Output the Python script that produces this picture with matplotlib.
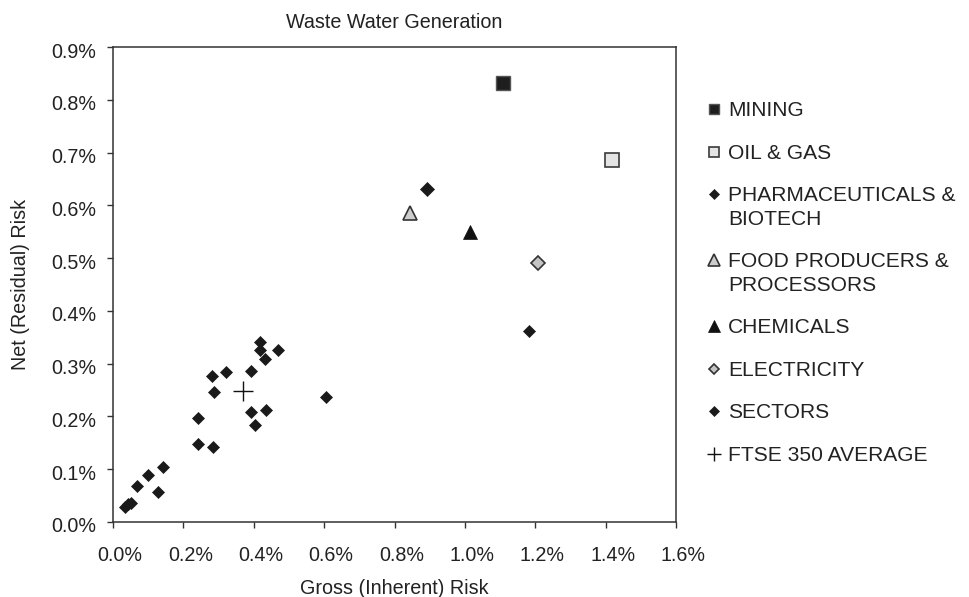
import matplotlib
matplotlib.use("Agg")
import matplotlib.pyplot as plt
from matplotlib.ticker import FuncFormatter
from matplotlib.transforms import ScaledTranslation

plt.rcParams['font.family'] = ['Liberation Sans', 'DejaVu Sans']

# Highlighted sectors (gross %, net %)
mining = ([1.109], [0.832])
oil_gas = ([1.419], [0.685])
pharma = ([0.891], [0.631])
food = ([0.843], [0.586])
chemicals = ([1.014], [0.550])
electricity = ([1.209], [0.491])

# All other sectors
sectors_x = [1.183, 0.419, 0.419, 0.470, 0.431, 0.392, 0.320, 0.281, 0.287,
             0.605, 0.391, 0.434, 0.404, 0.241, 0.242, 0.285, 0.141, 0.099,
             0.069, 0.129, 0.034, 0.044, 0.050]
sectors_y = [0.362, 0.342, 0.325, 0.326, 0.309, 0.287, 0.284, 0.277, 0.246,
             0.236, 0.208, 0.213, 0.184, 0.197, 0.147, 0.143, 0.104, 0.090,
             0.068, 0.057, 0.029, 0.035, 0.036]

ftse_avg = ([0.370], [0.249])

legend_labels = ["MINING", "OIL & GAS", "PHARMACEUTICALS &\nBIOTECH",
                 "FOOD PRODUCERS &\nPROCESSORS", "CHEMICALS", "ELECTRICITY",
                 "SECTORS", "FTSE 350 AVERAGE"]

x_ticks = [0.0, 0.2, 0.4, 0.6, 0.8, 1.0, 1.2, 1.4, 1.6]
y_ticks = [0.0, 0.1, 0.2, 0.3, 0.4, 0.5, 0.6, 0.7, 0.8, 0.9]

text_color = '#222222'
fs = 14.2
leg_fs = 15.1
leg_linespacing = 1.3

fig = plt.figure(figsize=(9.7, 5.97), dpi=100)
ax = fig.add_axes([113/970, 1-522/597, 563/970, 475/597])

ax.plot(*mining, ls='none', marker='s', ms=10, mfc='#1e1e1e', mec='#555555', mew=1, label=legend_labels[0])
ax.plot(*oil_gas, ls='none', marker='s', ms=10, mfc='#e4e4e4', mec='#3a3a3a', mew=1.2, label=legend_labels[1])
ax.plot(*pharma, ls='none', marker='D', ms=7.5, mfc='#1a1a1a', mec='#1a1a1a', mew=0.5, label=legend_labels[2])
ax.plot(*food, ls='none', marker='^', ms=10.5, mfc='#cccccc', mec='#333333', mew=1.2, label=legend_labels[3])
ax.plot(*chemicals, ls='none', marker='^', ms=10.5, mfc='#111111', mec='#111111', mew=0.5, label=legend_labels[4])
ax.plot(*electricity, ls='none', marker='D', ms=7.2, mfc='#c4c4c4', mec='#333333', mew=1.2, label=legend_labels[5])
ax.plot(sectors_x, sectors_y, ls='none', marker='D', ms=5.8, mfc='#1a1a1a', mec='#1a1a1a', mew=0.5, label=legend_labels[6])
ax.plot(*ftse_avg, ls='none', marker='+', ms=14, mec='#111111', mew=1.0, label=legend_labels[7])

ax.set_xlim(0, 1.6)
ax.set_ylim(0, 0.9)
ax.set_xticks(x_ticks)
ax.set_yticks(y_ticks)
ax.xaxis.set_major_formatter(FuncFormatter(lambda v, p: f"{v:.1f}%"))
ax.yaxis.set_major_formatter(FuncFormatter(lambda v, p: f"{v:.1f}%"))

for s in ax.spines.values():
    s.set_color('#333333')
    s.set_linewidth(1.1)

ax.tick_params(axis='x', direction='out', length=4, width=1, color='#333333',
               labelsize=fs, labelcolor=text_color, pad=13)
ax.tick_params(axis='y', direction='out', length=4, width=1, color='#333333',
               labelsize=fs, labelcolor=text_color, pad=8)

# tick labels sit slightly right (x) and slightly low (y) of their ticks
x_shift = ScaledTranslation(7/100, 0, fig.dpi_scale_trans)
y_shift = ScaledTranslation(0, -3/100, fig.dpi_scale_trans)
for lbl in ax.get_xticklabels():
    lbl.set_transform(lbl.get_transform() + x_shift)
for lbl in ax.get_yticklabels():
    lbl.set_transform(lbl.get_transform() + y_shift)

ax.set_title("Waste Water Generation", fontsize=fs, color=text_color, pad=14)
ax.set_xlabel("Gross (Inherent) Risk", fontsize=fs, color=text_color)
ax.set_ylabel("Net (Residual) Risk", fontsize=fs, color=text_color)
ax.xaxis.set_label_coords(0.5, -0.12)
ax.yaxis.set_label_coords(-0.147, 0.5)

leg = ax.legend(loc='upper left', bbox_to_anchor=(705.5/970, 1-101.5/597),
                bbox_transform=fig.transFigure, frameon=False, fontsize=leg_fs,
                borderpad=0, borderaxespad=0, handlelength=0.8,
                handletextpad=0.27, labelspacing=1.12)
for t in leg.get_texts():
    t.set_color(text_color)
    t.set_linespacing(leg_linespacing)

legend_marker_sizes = [7.5, 7.5, 5.6, 8.5, 8.5, 5.6, 5.6, 10]
for h, ms, label in zip(leg.legend_handles, legend_marker_sizes, legend_labels):
    h.set_markersize(ms)
    # on two-line entries the marker lines up with the first line of text
    n_lines = label.count("\n") + 1
    if n_lines > 1:
        dy = (n_lines - 1) * leg_linespacing * leg_fs / 2 / 72
        h.set_transform(h.get_transform() + ScaledTranslation(0, dy, fig.dpi_scale_trans))

fig.savefig("out.png", dpi=100)
